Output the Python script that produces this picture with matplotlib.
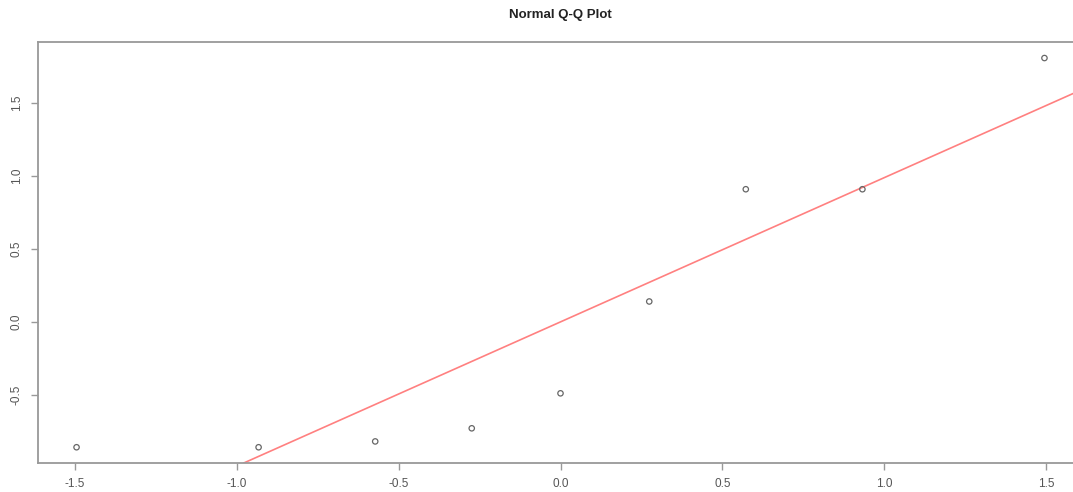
import numpy as np
import matplotlib
matplotlib.use("Agg")
import matplotlib.pyplot as plt

# theoretical quantiles (ppoints, n=9) and sample values
theoretical = [-1.494, -0.932, -0.572, -0.274, 0.0, 0.274, 0.572, 0.932, 1.494]
sample = [-0.86, -0.86, -0.82, -0.73, -0.49, 0.14, 0.91, 0.91, 1.81]
xticks = [-1.5, -1.0, -0.5, 0.0, 0.5, 1.0, 1.5]
yticks = [-0.5, 0.0, 0.5, 1.0, 1.5]

plt.rcParams['font.family'] = ['Liberation Sans', 'DejaVu Sans']

fig = plt.figure(figsize=(10.73, 4.92), dpi=100)
ax = fig.add_axes([38 / 1073, 1 - 463 / 492, 1045 / 1073, 421 / 492])

ax.scatter(theoretical, sample, s=15, facecolors='none', edgecolors='#666666', linewidths=0.9, zorder=3)
ax.axline((0, 0), slope=0.99, color='#ff8080', lw=1.2)

ax.set_xlim(-1.613, 1.613)
ax.set_ylim(-0.968, 1.92)
ax.set_xticks(xticks)
ax.set_yticks(yticks)
ax.set_xticklabels([f"{t:.1f}" for t in xticks])
ax.set_yticklabels([f"{t:.1f}" for t in yticks], rotation=90, va='center')
ax.tick_params(colors='#999999', labelcolor='#555555', labelsize=8.5, length=5, width=1, pad=6)

for s in ax.spines.values():
    s.set_color('#999999')
    s.set_linewidth(1.3)

fig.text(560.5 / 1073, 1 - 15 / 492, "Normal Q-Q Plot", ha='center', va='center',
         fontsize=9.5, fontweight='bold', color='#222222')

fig.savefig("out.png", dpi=100)
